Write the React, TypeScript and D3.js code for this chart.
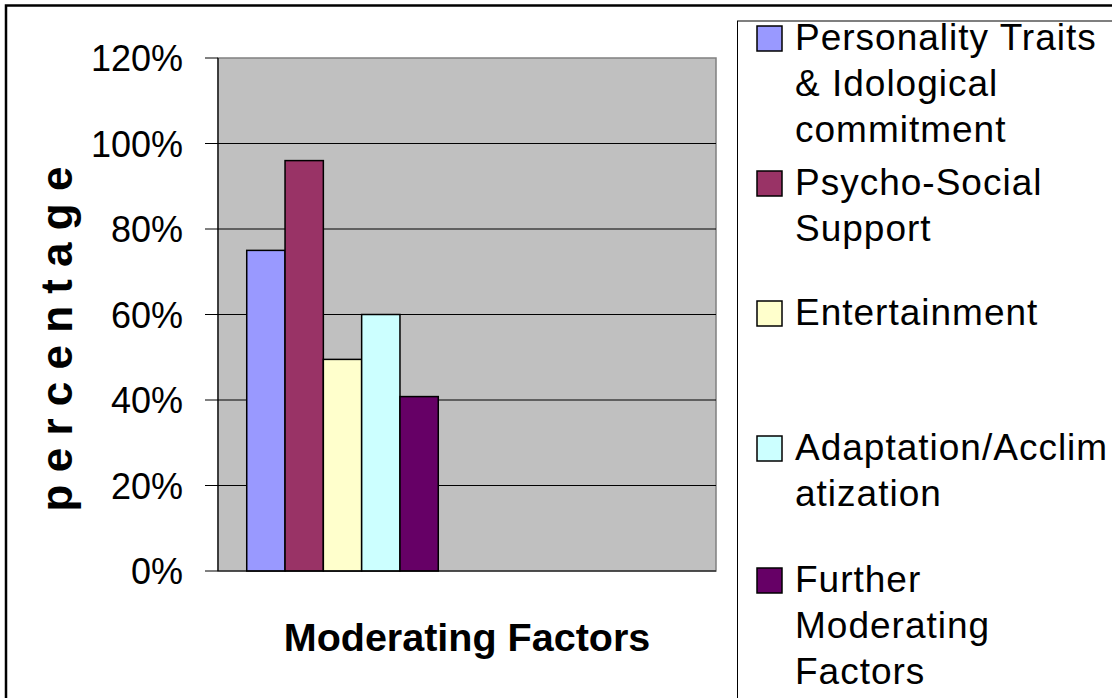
import * as d3 from "d3";

const width = 1112;
const height = 698;

// chart data
const categories = ["group1", "group2"]; // second category is empty, labels are blank
const seriesNames = [
  "Personality Traits & Idological commitment",
  "Psycho-Social Support",
  "Entertainment",
  "Adaptation/Acclimatization",
  "Further Moderating Factors",
];
const seriesValues = [0.75, 0.96, 0.495, 0.6, 0.408];
const seriesColors = ["#9999FF", "#993366", "#FFFFCC", "#CCFFFF", "#660066"];
const legendLines = [
  ["Personality Traits", "& Idological", "commitment"],
  ["Psycho-Social", "Support"],
  ["Entertainment"],
  ["Adaptation/Acclim", "atization"],
  ["Further", "Moderating", "Factors"],
];
const yTicks = [0, 0.2, 0.4, 0.6, 0.8, 1.0, 1.2];

const font = "'Liberation Sans', Arial, Helvetica, sans-serif";

// plot area
const plot = { left: 218, top: 58, right: 716, bottom: 571 };

// legend layout (first-line baseline of each entry)
const legendBaselines = [50, 195, 325, 460, 592];
const legendLineH = 46;

const App = () => {
  const y = d3.scaleLinear().domain([0, 1.2]).range([plot.bottom, plot.top]);
  const x0 = d3.scaleBand().domain(categories).range([plot.left, plot.right]);
  const x1 = d3
    .scaleBand()
    .domain(seriesNames)
    .range([0, x0.bandwidth()])
    .paddingInner(0)
    .paddingOuter(0.75);
  const fmt = d3.format(".0%");

  return (
    <svg
      width={width}
      height={height}
      style={{ position: "fixed", left: 0, top: 0, background: "#fff" }}
    >
      {/* outer frame, cropped at right and bottom */}
      <rect x={6} y={5.5} width={1200} height={800} fill="none" stroke="#000" strokeWidth={2.5} />

      {/* plot background */}
      <rect
        x={plot.left}
        y={plot.top}
        width={plot.right - plot.left}
        height={plot.bottom - plot.top}
        fill="#C0C0C0"
        stroke="#808080"
        strokeWidth={1.5}
      />

      {/* gridlines */}
      {yTicks.slice(1, -1).map(t => (
        <line key={t} x1={plot.left} x2={plot.right} y1={y(t)} y2={y(t)} stroke="#000" strokeWidth={1} />
      ))}

      {/* bars */}
      {seriesNames.map((s, i) => (
        <rect
          key={s}
          x={x0(categories[0])! + x1(s)!}
          y={y(seriesValues[i])}
          width={x1.bandwidth()}
          height={y(0) - y(seriesValues[i])}
          fill={seriesColors[i]}
          stroke="#000"
          strokeWidth={1.5}
        />
      ))}

      {/* axes */}
      <line x1={plot.left} x2={plot.left} y1={plot.top} y2={plot.bottom} stroke="#000" strokeWidth={1.2} />
      <line x1={plot.left} x2={plot.right} y1={plot.bottom} y2={plot.bottom} stroke="#000" strokeWidth={1.2} />
      {yTicks.map(t => (
        <g key={t}>
          <line x1={205} x2={plot.left} y1={y(t)} y2={y(t)} stroke="#000" strokeWidth={1} />
          <text
            x={183}
            y={y(t) + 13}
            textAnchor="end"
            fontFamily={font}
            fontSize={36}
            fill="#000"
          >
            {fmt(t)}
          </text>
        </g>
      ))}

      {/* axis titles */}
      <text
        x={(plot.left + plot.right) / 2}
        y={651}
        textAnchor="middle"
        fontFamily={font}
        fontSize={39.5}
        fontWeight="bold"
      >
        Moderating Factors
      </text>
      <text
        transform="translate(72,339) rotate(-90)"
        textAnchor="middle"
        fontFamily={font}
        fontSize={44}
        fontWeight="bold"
      >
        p e r c e n t a g e
      </text>

      {/* legend */}
      <rect x={737.5} y={21} width={500} height={800} fill="#fff" stroke="#000" strokeWidth={1} />
      {legendLines.map((lines, i) => (
        <g key={i}>
          <rect
            x={757}
            y={legendBaselines[i] - 24}
            width={25}
            height={25}
            fill={seriesColors[i]}
            stroke="#000"
            strokeWidth={1.5}
          />
          {lines.map((l, j) => (
            <text
              key={j}
              x={795}
              y={legendBaselines[i] + j * legendLineH}
              fontFamily={font}
              fontSize={37}
              letterSpacing={1}
              fill="#000"
            >
              {l}
            </text>
          ))}
        </g>
      ))}
    </svg>
  );
};

export default App;
